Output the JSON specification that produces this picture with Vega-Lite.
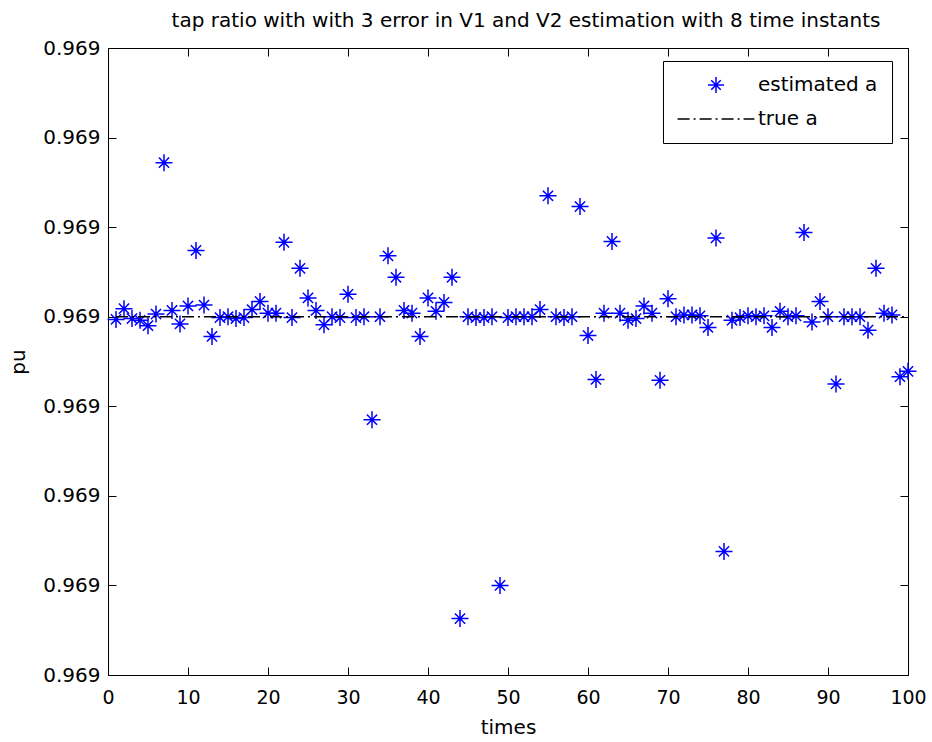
{
  "$schema": "https://vega.github.io/schema/vega-lite/v6.json",
  "width": 800,
  "height": 627,
  "autosize": {"type": "none"},
  "padding": {"left": 108, "top": 48, "right": 24, "bottom": 67},
  "background": "white",
  "title": {
    "text": "tap ratio with with 3 error in V1 and V2 estimation with 8 time instants",
    "font": "DejaVu Sans",
    "fontSize": 20,
    "fontWeight": "normal",
    "color": "black",
    "anchor": "middle",
    "baseline": "alphabetic",
    "offset": 0,
    "dy": 9,
    "dx": 18
  },
  "config": {
    "view": {"stroke": null},
    "axis": {
      "labelFont": "DejaVu Sans",
      "titleFont": "DejaVu Sans",
      "labelColor": "black",
      "titleColor": "black",
      "titleFontWeight": "normal",
      "domainColor": "black",
      "tickColor": "black",
      "domainWidth": 1,
      "tickWidth": 1,
      "grid": false
    }
  },
  "datasets": {
    "est": [
      {"t": 1, "pu": 0.96899997, "series": "estimated a"},
      {"t": 2, "pu": 0.96900009, "series": "estimated a"},
      {"t": 3, "pu": 0.96899998, "series": "estimated a"},
      {"t": 4, "pu": 0.96899996, "series": "estimated a"},
      {"t": 5, "pu": 0.9689999, "series": "estimated a"},
      {"t": 6, "pu": 0.96900003, "series": "estimated a"},
      {"t": 7, "pu": 0.96900172, "series": "estimated a"},
      {"t": 8, "pu": 0.96900007, "series": "estimated a"},
      {"t": 9, "pu": 0.96899992, "series": "estimated a"},
      {"t": 10, "pu": 0.96900012, "series": "estimated a"},
      {"t": 11, "pu": 0.96900074, "series": "estimated a"},
      {"t": 12, "pu": 0.96900013, "series": "estimated a"},
      {"t": 13, "pu": 0.96899978, "series": "estimated a"},
      {"t": 14, "pu": 0.96899999, "series": "estimated a"},
      {"t": 15, "pu": 0.969, "series": "estimated a"},
      {"t": 16, "pu": 0.96899998, "series": "estimated a"},
      {"t": 17, "pu": 0.96899999, "series": "estimated a"},
      {"t": 18, "pu": 0.96900008, "series": "estimated a"},
      {"t": 19, "pu": 0.96900017, "series": "estimated a"},
      {"t": 20, "pu": 0.96900004, "series": "estimated a"},
      {"t": 21, "pu": 0.96900004, "series": "estimated a"},
      {"t": 22, "pu": 0.96900083, "series": "estimated a"},
      {"t": 23, "pu": 0.96899999, "series": "estimated a"},
      {"t": 24, "pu": 0.96900054, "series": "estimated a"},
      {"t": 25, "pu": 0.96900021, "series": "estimated a"},
      {"t": 26, "pu": 0.96900007, "series": "estimated a"},
      {"t": 27, "pu": 0.96899991, "series": "estimated a"},
      {"t": 28, "pu": 0.969, "series": "estimated a"},
      {"t": 29, "pu": 0.96899999, "series": "estimated a"},
      {"t": 30, "pu": 0.96900025, "series": "estimated a"},
      {"t": 31, "pu": 0.96899999, "series": "estimated a"},
      {"t": 32, "pu": 0.969, "series": "estimated a"},
      {"t": 33, "pu": 0.96899885, "series": "estimated a"},
      {"t": 34, "pu": 0.969, "series": "estimated a"},
      {"t": 35, "pu": 0.96900068, "series": "estimated a"},
      {"t": 36, "pu": 0.96900044, "series": "estimated a"},
      {"t": 37, "pu": 0.96900007, "series": "estimated a"},
      {"t": 38, "pu": 0.96900004, "series": "estimated a"},
      {"t": 39, "pu": 0.96899978, "series": "estimated a"},
      {"t": 40, "pu": 0.96900021, "series": "estimated a"},
      {"t": 41, "pu": 0.96900006, "series": "estimated a"},
      {"t": 42, "pu": 0.96900016, "series": "estimated a"},
      {"t": 43, "pu": 0.96900044, "series": "estimated a"},
      {"t": 44, "pu": 0.96899663, "series": "estimated a"},
      {"t": 45, "pu": 0.969, "series": "estimated a"},
      {"t": 46, "pu": 0.96899999, "series": "estimated a"},
      {"t": 47, "pu": 0.96899999, "series": "estimated a"},
      {"t": 48, "pu": 0.969, "series": "estimated a"},
      {"t": 49, "pu": 0.968997, "series": "estimated a"},
      {"t": 50, "pu": 0.96899999, "series": "estimated a"},
      {"t": 51, "pu": 0.969, "series": "estimated a"},
      {"t": 52, "pu": 0.969, "series": "estimated a"},
      {"t": 53, "pu": 0.969, "series": "estimated a"},
      {"t": 54, "pu": 0.96900008, "series": "estimated a"},
      {"t": 55, "pu": 0.96900135, "series": "estimated a"},
      {"t": 56, "pu": 0.969, "series": "estimated a"},
      {"t": 57, "pu": 0.96899999, "series": "estimated a"},
      {"t": 58, "pu": 0.969, "series": "estimated a"},
      {"t": 59, "pu": 0.96900123, "series": "estimated a"},
      {"t": 60, "pu": 0.96899979, "series": "estimated a"},
      {"t": 61, "pu": 0.9689993, "series": "estimated a"},
      {"t": 62, "pu": 0.96900004, "series": "estimated a"},
      {"t": 63, "pu": 0.96900084, "series": "estimated a"},
      {"t": 64, "pu": 0.96900004, "series": "estimated a"},
      {"t": 65, "pu": 0.96899996, "series": "estimated a"},
      {"t": 66, "pu": 0.96899998, "series": "estimated a"},
      {"t": 67, "pu": 0.96900012, "series": "estimated a"},
      {"t": 68, "pu": 0.96900004, "series": "estimated a"},
      {"t": 69, "pu": 0.96899929, "series": "estimated a"},
      {"t": 70, "pu": 0.9690002, "series": "estimated a"},
      {"t": 71, "pu": 0.969, "series": "estimated a"},
      {"t": 72, "pu": 0.96900002, "series": "estimated a"},
      {"t": 73, "pu": 0.96900002, "series": "estimated a"},
      {"t": 74, "pu": 0.96900001, "series": "estimated a"},
      {"t": 75, "pu": 0.96899988, "series": "estimated a"},
      {"t": 76, "pu": 0.96900088, "series": "estimated a"},
      {"t": 77, "pu": 0.96899738, "series": "estimated a"},
      {"t": 78, "pu": 0.96899996, "series": "estimated a"},
      {"t": 79, "pu": 0.96899999, "series": "estimated a"},
      {"t": 80, "pu": 0.96900001, "series": "estimated a"},
      {"t": 81, "pu": 0.969, "series": "estimated a"},
      {"t": 82, "pu": 0.96900001, "series": "estimated a"},
      {"t": 83, "pu": 0.96899988, "series": "estimated a"},
      {"t": 84, "pu": 0.96900006, "series": "estimated a"},
      {"t": 85, "pu": 0.969, "series": "estimated a"},
      {"t": 86, "pu": 0.96900001, "series": "estimated a"},
      {"t": 87, "pu": 0.96900094, "series": "estimated a"},
      {"t": 88, "pu": 0.96899994, "series": "estimated a"},
      {"t": 89, "pu": 0.96900017, "series": "estimated a"},
      {"t": 90, "pu": 0.969, "series": "estimated a"},
      {"t": 91, "pu": 0.96899925, "series": "estimated a"},
      {"t": 92, "pu": 0.969, "series": "estimated a"},
      {"t": 93, "pu": 0.969, "series": "estimated a"},
      {"t": 94, "pu": 0.969, "series": "estimated a"},
      {"t": 95, "pu": 0.96899985, "series": "estimated a"},
      {"t": 96, "pu": 0.96900054, "series": "estimated a"},
      {"t": 97, "pu": 0.96900004, "series": "estimated a"},
      {"t": 98, "pu": 0.96900002, "series": "estimated a"},
      {"t": 99, "pu": 0.96899933, "series": "estimated a"},
      {"t": 100, "pu": 0.96899939, "series": "estimated a"}
    ],
    "truth": [
      {"t": 1, "pu": 0.969, "series": "true a"},
      {"t": 100, "pu": 0.969, "series": "true a"}
    ]
  },
  "layer": [
    {
      "data": {"name": "est"},
      "mark": {
        "type": "point",
        "filled": false,
        "size": 289,
        "strokeWidth": 1.5,
        "opacity": 1
      },
      "encoding": {
        "x": {
          "field": "t",
          "type": "quantitative",
          "scale": {"domain": [0, 100], "nice": false, "zero": false},
          "axis": {
            "orient": "bottom",
            "title": "times",
            "values": [0, 10, 20, 30, 40, 50, 60, 70, 80, 90, 100],
            "tickSize": -8,
            "labelPadding": 21,
            "labelFontSize": 19,
            "titleFontSize": 20,
            "titlePadding": 10,
            "labelOverlap": false,
            "labelFlush": false
          }
        },
        "y": {
          "field": "pu",
          "type": "quantitative",
          "scale": {"domain": [0.968996, 0.969003], "nice": false, "zero": false},
          "axis": {
            "orient": "left",
            "title": "pu",
            "values": [0.968996, 0.968997, 0.968998, 0.968999, 0.969, 0.969001, 0.969002, 0.969003],
            "format": ".3f",
            "tickSize": -8,
            "labelPadding": 16,
            "labelFontSize": 20,
            "titleFontSize": 20,
            "titlePadding": 14,
            "labelOverlap": false,
            "labelFlush": false
          }
        },
        "color": {
          "field": "series",
          "type": "nominal",
          "scale": {"domain": ["estimated a", "true a"], "range": ["#0000ff", "#000000"]},
          "legend": {
            "title": null,
            "orient": "none",
            "legendX": 555,
            "legendY": 13,
            "padding": 14,
            "strokeColor": "black",
            "fillColor": "white",
            "cornerRadius": 0,
            "symbolSize": 256,
            "symbolOffset": 29,
            "labelOffset": 32,
            "rowPadding": 13,
            "symbolStrokeWidth": 1.5,
            "labelFont": "DejaVu Sans",
            "labelFontSize": 20,
            "labelColor": "black",
            "labelLimit": 300
          }
        },
        "shape": {
          "field": "series",
          "type": "nominal",
          "scale": {
            "domain": ["estimated a", "true a"],
            "range": ["M-1,0L1,0M0,-1L0,1M-0.6,-0.6L0.6,0.6M-0.6,0.6L0.6,-0.6", "M-4.8,0L4.8,0"]
          },
          "legend": {
            "title": null,
            "orient": "none",
            "legendX": 555,
            "legendY": 13
          }
        },
        "strokeDash": {
          "field": "series",
          "type": "nominal",
          "scale": {
            "domain": ["estimated a", "true a"],
            "range": [[1, 0], [12, 4, 2, 4]]
          },
          "legend": {
            "title": null,
            "orient": "none",
            "legendX": 555,
            "legendY": 13
          }
        }
      }
    },
    {
      "data": {"name": "truth"},
      "mark": {"type": "line", "strokeWidth": 1.5},
      "encoding": {
        "x": {
          "field": "t",
          "type": "quantitative",
          "axis": {
            "orient": "top",
            "title": null,
            "labels": false,
            "values": [0, 10, 20, 30, 40, 50, 60, 70, 80, 90, 100],
            "tickSize": -8
          }
        },
        "y": {
          "field": "pu",
          "type": "quantitative",
          "axis": {
            "orient": "right",
            "title": null,
            "labels": false,
            "values": [0.968996, 0.968997, 0.968998, 0.968999, 0.969, 0.969001, 0.969002, 0.969003],
            "tickSize": -8
          }
        },
        "color": {"field": "series", "type": "nominal", "legend": null},
        "strokeDash": {"field": "series", "type": "nominal", "legend": null}
      }
    }
  ],
  "resolve": {"axis": {"x": "independent", "y": "independent"}}
}
